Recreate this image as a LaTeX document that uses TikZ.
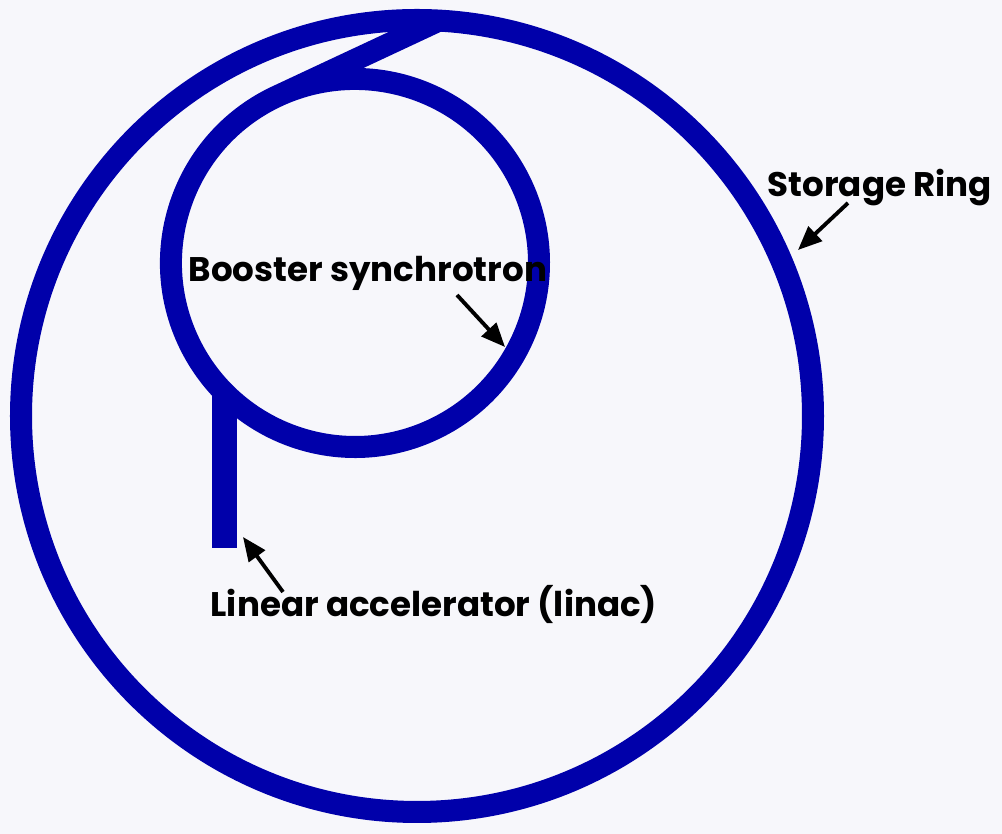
\documentclass[tikz,border=0pt]{standalone}
\usepackage{fontspec}
\setmainfont{Poppins}
\usetikzlibrary{arrows.meta}
\definecolor{beamblue}{RGB}{0,0,170}
\definecolor{fondC}{RGB}{247,247,251}
\tikzset{
  ring/.style={draw=beamblue, line width=0.22cm, line join=round},
  linac/.style={draw=beamblue, line width=0.24cm},
  lbl/.style={anchor=base west, inner sep=0pt, font=\fontsize{9.7}{12}\selectfont\bfseries},
  pointer/.style={-{Triangle[length=6.8pt, width=5.6pt]}, line width=1.1pt, draw=black},
}
\begin{document}
\begin{tikzpicture}[x=0.01cm, y=-0.01cm]
  \fill[fondC] (0,0) rectangle (1002,834);

  % storage ring
  \draw[ring] (417,416) circle[radius=396];
  % booster ring, fed from the transfer line at the top
  \draw[ring] (438,21) -- (274.3,97.6)
    arc[start angle=244, end angle=-116, radius=184];
  % linac
  \draw[linac] (224.5,548) -- (224.5,392);

  \node[lbl] (srlabel) at (767,197) {Storage Ring};
  \node[lbl] (bslabel) at (188,282) {Booster synchrotron};
  \node[lbl] (lilabel) at (210,617) {Linear accelerator (linac)};

  \coordinate (srtail) at (848,203);
  \coordinate (srtip) at (798,250);
  \coordinate (bstail) at (457,295);
  \coordinate (bstip) at (505,347);
  \coordinate (litail) at (283,592);
  \coordinate (litip) at (243,537);
  \draw[pointer] (srtail) -- (srtip);
  \draw[pointer] (bstail) -- (bstip);
  \draw[pointer] (litail) -- (litip);
\end{tikzpicture}
\end{document}
